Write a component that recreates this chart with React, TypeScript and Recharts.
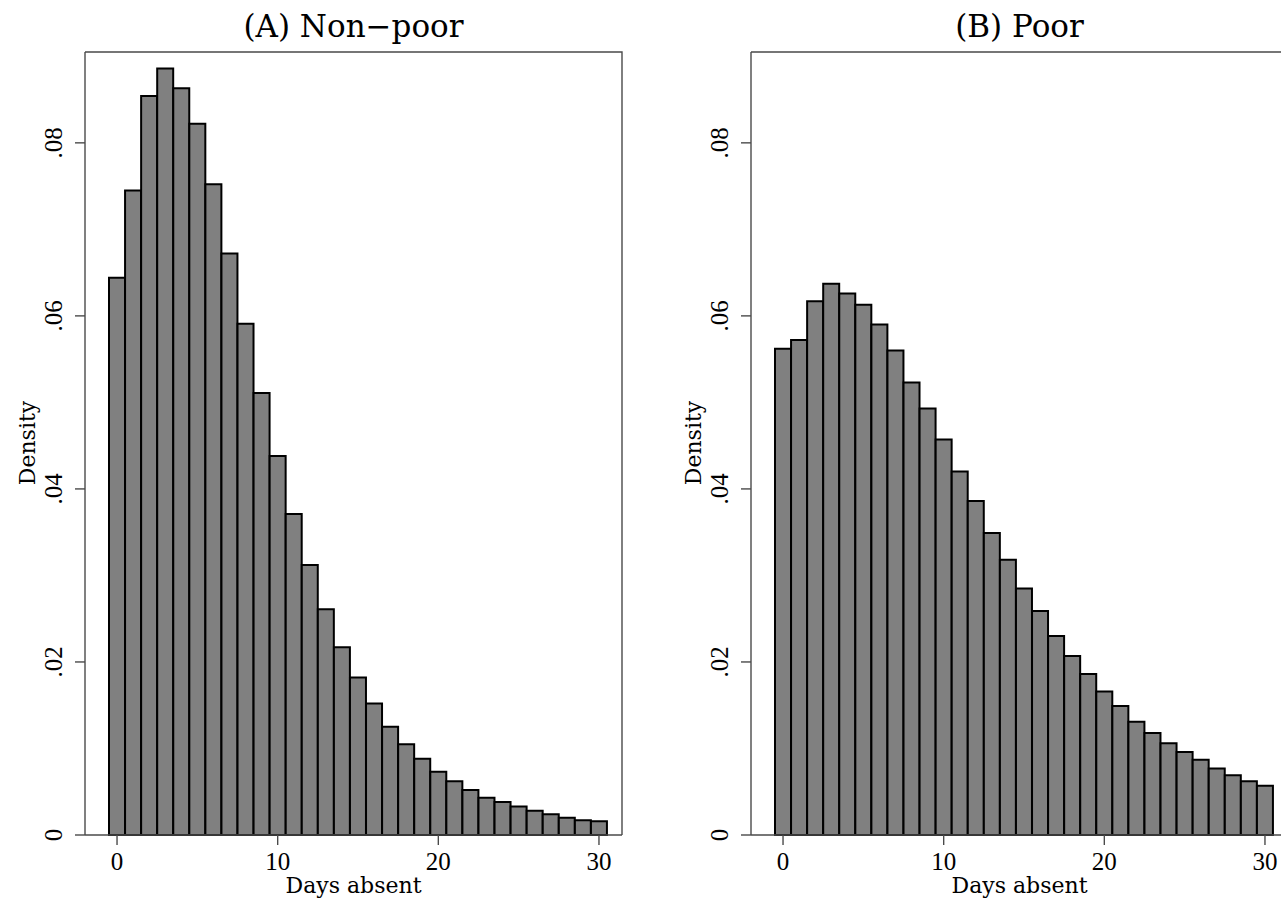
import { BarChart, Bar, XAxis, YAxis, Label } from "recharts";

const days = [
  0, 1, 2, 3, 4, 5, 6, 7, 8, 9, 10, 11, 12, 13, 14, 15, 16, 17, 18, 19, 20,
  21, 22, 23, 24, 25, 26, 27, 28, 29, 30,
];

const nonPoor = [
  0.0644, 0.0745, 0.0854, 0.0886, 0.0863, 0.0822, 0.0752, 0.0672, 0.0591,
  0.0511, 0.0438, 0.0371, 0.0312, 0.0261, 0.0217, 0.0182, 0.0152, 0.0125,
  0.0105, 0.0088, 0.0073, 0.0062, 0.0052, 0.0043, 0.0038, 0.0033, 0.0028,
  0.0024, 0.002, 0.0017, 0.0016,
];

const poor = [
  0.0562, 0.0572, 0.0617, 0.0637, 0.0626, 0.0613, 0.059, 0.056, 0.0523,
  0.0493, 0.0457, 0.042, 0.0386, 0.0349, 0.0318, 0.0285, 0.0259, 0.023,
  0.0207, 0.0186, 0.0166, 0.0149, 0.0131, 0.0118, 0.0106, 0.0096, 0.0087,
  0.0077, 0.0069, 0.0062, 0.0057,
];

const yTicks = [0, 0.02, 0.04, 0.06, 0.08];
const xTicks = [0, 10, 20, 30];

const Y_MAX = 0.0905;
const TOP = 52;
const FRAME = "#4a4a4a";
const TEXT_FONT = "'DejaVu Serif', serif";
const NUM_FONT = "'Liberation Serif', serif";

const fmtY = (v: number) => (v === 0 ? "0" : v.toFixed(2).replace(/^0/, ""));

const YTick = (props: any) => {
  const { y, payload } = props;
  return (
    <text
      x={62}
      y={y}
      transform={`rotate(-90 62 ${y})`}
      textAnchor="middle"
      fontSize={25}
      fontFamily={NUM_FONT}
      fill="#000"
    >
      {fmtY(payload.value)}
    </text>
  );
};

// x-axis title, panel title and the top/right sides of the plot box
const Decor = ({ viewBox, title }: any) => {
  const { x, y, width } = viewBox;
  const cx = x + width / 2;
  return (
    <g>
      <polyline
        points={`${x},${TOP} ${x + width},${TOP} ${x + width},${y}`}
        fill="none"
        stroke={FRAME}
        strokeWidth={1.4}
      />
      <text
        x={cx}
        y={37}
        textAnchor="middle"
        fontSize={31}
        fontFamily={TEXT_FONT}
        fill="#000"
      >
        {title}
      </text>
      <text
        x={cx}
        y={893}
        textAnchor="middle"
        fontSize={22}
        fontFamily={TEXT_FONT}
        fill="#000"
      >
        Days absent
      </text>
    </g>
  );
};

function Panel({ title, values }: { title: string; values: number[] }) {
  const data = days.map((d, i) => ({ day: d, density: values[i] }));
  return (
    <BarChart
      width={640}
      height={905}
      data={data}
      margin={{ top: TOP, right: 18, left: 0, bottom: 0 }}
      barCategoryGap={0}
      barGap={0}
    >
      <XAxis
        dataKey="day"
        ticks={xTicks}
        interval={0}
        height={70}
        padding={{ left: 24, right: 15 }}
        tickSize={10}
        tickMargin={7}
        tickLine={{ stroke: FRAME, strokeWidth: 1.4 }}
        axisLine={{ stroke: FRAME, strokeWidth: 1.4 }}
        tick={{ fontSize: 25, fontFamily: NUM_FONT, fill: "#000" }}
      >
        <Label content={(p: any) => <Decor {...p} title={title} />} />
      </XAxis>
      <YAxis
        width={85}
        domain={[0, Y_MAX]}
        ticks={yTicks}
        interval={0}
        tickSize={10}
        tickLine={{ stroke: FRAME, strokeWidth: 1.4 }}
        axisLine={{ stroke: FRAME, strokeWidth: 1.4 }}
        tick={<YTick />}
      >
        <Label
          content={() => (
            <text
              x={27}
              y={443}
              transform="rotate(-90 27 443)"
              textAnchor="middle"
              dominantBaseline="central"
              fontSize={22}
              fontFamily={TEXT_FONT}
              fill="#000"
            >
              Density
            </text>
          )}
        />
      </YAxis>
      <Bar
        dataKey="density"
        fill="#808080"
        stroke="#000"
        strokeWidth={2}
        isAnimationActive={false}
      />
    </BarChart>
  );
}

export default function App() {
  return (
    <div
      style={{
        position: "absolute",
        left: 0,
        top: 0,
        width: 1281,
        height: 905,
        overflow: "hidden",
        background: "#fff",
      }}
    >
      <div style={{ position: "absolute", left: 0, top: 0 }}>
        <Panel title="(A) Non−poor" values={nonPoor} />
      </div>
      <div style={{ position: "absolute", left: 666, top: 0 }}>
        <Panel title="(B) Poor" values={poor} />
      </div>
    </div>
  );
}
